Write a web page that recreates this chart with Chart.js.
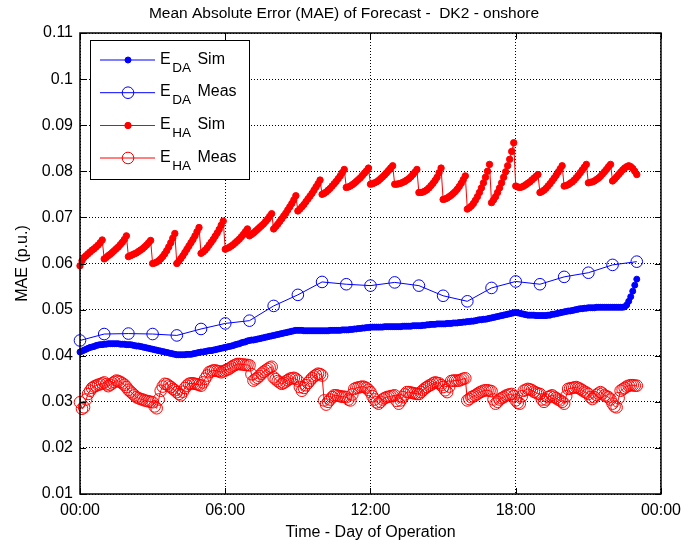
<!DOCTYPE html>
<html lang="en">
<head>
<meta charset="UTF-8">
<title>MAE of Forecast - DK2 onshore</title>
<script src="https://cdn.jsdelivr.net/npm/chart.js@4.4.1/dist/chart.umd.min.js"></script>
<style>
  html, body { margin: 0; padding: 0; background: #fff; }
</style>
</head>
<body>
<canvas id="maeChart" width="688" height="545"></canvas>
<script>
// dense series are sampled every 5 minutes (value in hours), meas DA is hourly
var stepDense = 1 / 12;
var stepHourly = 1;

var xTickLabels = ['00:00', '06:00', '12:00', '18:00', '00:00'];
var yTickLabels = ['0.01', '0.02', '0.03', '0.04', '0.05', '0.06', '0.07', '0.08', '0.09', '0.1', '0.11'];

var legendNames = [
    ['E', 'DA', 'Sim'],
    ['E', 'DA', 'Meas'],
    ['E', 'HA', 'Sim'],
    ['E', 'HA', 'Meas']
];

// one row per hour, 00:00 .. 23:00
var daSim = [
    0.0408, 0.0410, 0.0412, 0.0414, 0.0416, 0.0418, 0.0419, 0.0420, 0.0422, 0.0423, 0.0424, 0.0424,
    0.0425, 0.0425, 0.0426, 0.0426, 0.0426, 0.0426, 0.0426, 0.0426, 0.0425, 0.0425, 0.0425, 0.0424,
    0.0424, 0.0424, 0.0423, 0.0422, 0.0421, 0.0421, 0.0420, 0.0419, 0.0418, 0.0417, 0.0416, 0.0415,
    0.0414, 0.0413, 0.0412, 0.0411, 0.0410, 0.0409, 0.0408, 0.0407, 0.0406, 0.0405, 0.0404, 0.0403,
    0.0402, 0.0402, 0.0402, 0.0402, 0.0402, 0.0403, 0.0403, 0.0403, 0.0404, 0.0405, 0.0406, 0.0407,
    0.0408, 0.0408, 0.0409, 0.0410, 0.0411, 0.0411, 0.0412, 0.0413, 0.0414, 0.0415, 0.0416, 0.0417,
    0.0418, 0.0419, 0.0420, 0.0421, 0.0422, 0.0424, 0.0425, 0.0426, 0.0428, 0.0429, 0.0430, 0.0432,
    0.0433, 0.0434, 0.0434, 0.0435, 0.0436, 0.0437, 0.0438, 0.0439, 0.0440, 0.0441, 0.0442, 0.0443,
    0.0444, 0.0445, 0.0446, 0.0447, 0.0448, 0.0449, 0.0450, 0.0451, 0.0452, 0.0453, 0.0454, 0.0455,
    0.0455, 0.0455, 0.0455, 0.0454, 0.0454, 0.0454, 0.0454, 0.0454, 0.0454, 0.0454, 0.0454, 0.0454,
    0.0454, 0.0454, 0.0454, 0.0454, 0.0455, 0.0455, 0.0455, 0.0455, 0.0455, 0.0455, 0.0456, 0.0456,
    0.0456, 0.0456, 0.0457, 0.0457, 0.0458, 0.0458, 0.0459, 0.0459, 0.0460, 0.0460, 0.0461, 0.0461,
    0.0462, 0.0462, 0.0462, 0.0462, 0.0462, 0.0462, 0.0462, 0.0463, 0.0463, 0.0463, 0.0463, 0.0463,
    0.0463, 0.0463, 0.0463, 0.0463, 0.0464, 0.0464, 0.0464, 0.0464, 0.0464, 0.0465, 0.0465, 0.0465,
    0.0465, 0.0465, 0.0466, 0.0466, 0.0467, 0.0467, 0.0468, 0.0468, 0.0468, 0.0469, 0.0469, 0.0469,
    0.0469, 0.0469, 0.0470, 0.0470, 0.0470, 0.0471, 0.0471, 0.0471, 0.0472, 0.0472, 0.0473, 0.0473,
    0.0474, 0.0474, 0.0475, 0.0475, 0.0476, 0.0477, 0.0478, 0.0478, 0.0479, 0.0479, 0.0480, 0.0481,
    0.0482, 0.0483, 0.0484, 0.0485, 0.0486, 0.0487, 0.0488, 0.0489, 0.0490, 0.0491, 0.0492, 0.0493,
    0.0494, 0.0493, 0.0492, 0.0491, 0.0490, 0.0489, 0.0488, 0.0488, 0.0488, 0.0488, 0.0487, 0.0487,
    0.0487, 0.0487, 0.0487, 0.0487, 0.0488, 0.0488, 0.0490, 0.0490, 0.0491, 0.0492, 0.0493, 0.0494,
    0.0495, 0.0496, 0.0497, 0.0497, 0.0498, 0.0499, 0.0500, 0.0501, 0.0502, 0.0502, 0.0503, 0.0503,
    0.0504, 0.0504, 0.0504, 0.0504, 0.0505, 0.0505, 0.0505, 0.0505, 0.0505, 0.0505, 0.0505, 0.0505,
    0.0505, 0.0505, 0.0505, 0.0505, 0.0505, 0.0505, 0.0506, 0.0510, 0.0518, 0.0528, 0.0540, 0.0553,
    0.0566
];

var daMeas = [
    0.0433, 0.0447, 0.0448, 0.0447, 0.0444, 0.0458, 0.0470, 0.0476,
    0.0508, 0.0532, 0.0560, 0.0555, 0.0552, 0.0559, 0.0552, 0.0530,
    0.0518, 0.0547, 0.0561, 0.0555, 0.0571, 0.0580, 0.0597, 0.0604
];

var haSim = [
    0.0595, 0.0606, 0.0613, 0.0617, 0.0621, 0.0625, 0.0629, 0.0632, 0.0636, 0.0640, 0.0645, 0.0651,
    0.0610, 0.0613, 0.0617, 0.0620, 0.0624, 0.0628, 0.0632, 0.0636, 0.0641, 0.0646, 0.0652, 0.0660,
    0.0615, 0.0617, 0.0619, 0.0621, 0.0623, 0.0626, 0.0629, 0.0632, 0.0636, 0.0640, 0.0645, 0.0650,
    0.0600, 0.0601, 0.0603, 0.0606, 0.0610, 0.0615, 0.0621, 0.0628, 0.0636, 0.0645, 0.0655, 0.0665,
    0.0600, 0.0605, 0.0611, 0.0617, 0.0624, 0.0631, 0.0638, 0.0645, 0.0652, 0.0660, 0.0669, 0.0678,
    0.0622, 0.0625, 0.0629, 0.0634, 0.0640, 0.0646, 0.0652, 0.0659, 0.0666, 0.0674, 0.0683, 0.0692,
    0.0631, 0.0633, 0.0635, 0.0638, 0.0641, 0.0645, 0.0649, 0.0653, 0.0658, 0.0663, 0.0669, 0.0675,
    0.0660, 0.0663, 0.0666, 0.0670, 0.0674, 0.0678, 0.0682, 0.0686, 0.0691, 0.0696, 0.0702, 0.0708,
    0.0675, 0.0680, 0.0685, 0.0691, 0.0697, 0.0703, 0.0709, 0.0716, 0.0723, 0.0730, 0.0738, 0.0747,
    0.0714, 0.0718, 0.0723, 0.0728, 0.0734, 0.0740, 0.0746, 0.0752, 0.0759, 0.0766, 0.0773, 0.0781,
    0.0750, 0.0752, 0.0755, 0.0759, 0.0763, 0.0768, 0.0773, 0.0778, 0.0784, 0.0790, 0.0797, 0.0804,
    0.0765, 0.0766, 0.0768, 0.0771, 0.0774, 0.0778, 0.0782, 0.0786, 0.0791, 0.0796, 0.0801, 0.0807,
    0.0772, 0.0773, 0.0775, 0.0777, 0.0780, 0.0784, 0.0788, 0.0792, 0.0797, 0.0802, 0.0807, 0.0812,
    0.0772, 0.0772, 0.0773, 0.0774, 0.0776, 0.0778, 0.0781, 0.0784, 0.0788, 0.0793, 0.0798, 0.0804,
    0.0754, 0.0754, 0.0755, 0.0757, 0.0760, 0.0764, 0.0769, 0.0774, 0.0780, 0.0787, 0.0797, 0.0807,
    0.0739, 0.0740, 0.0742, 0.0745, 0.0748, 0.0752, 0.0756, 0.0761, 0.0767, 0.0774, 0.0782, 0.0790,
    0.0718, 0.0721, 0.0725, 0.0730, 0.0737, 0.0745, 0.0754, 0.0764, 0.0775, 0.0787, 0.0800, 0.0815,
    0.0732, 0.0738, 0.0745, 0.0754, 0.0764, 0.0775, 0.0787, 0.0799, 0.0812, 0.0826, 0.0843, 0.0862,
    0.0768, 0.0766, 0.0765, 0.0766, 0.0768, 0.0771, 0.0774, 0.0777, 0.0781, 0.0785, 0.0789, 0.0793,
    0.0754, 0.0756, 0.0759, 0.0763, 0.0768, 0.0773, 0.0779, 0.0785, 0.0791, 0.0798, 0.0805, 0.0812,
    0.0768, 0.0769, 0.0771, 0.0774, 0.0777, 0.0781, 0.0786, 0.0791, 0.0797, 0.0803, 0.0809, 0.0815,
    0.0775, 0.0776, 0.0777, 0.0779, 0.0782, 0.0785, 0.0789, 0.0794, 0.0799, 0.0804, 0.0810, 0.0815,
    0.0779, 0.0783, 0.0788, 0.0793, 0.0798, 0.0803, 0.0807, 0.0810, 0.0812, 0.0810, 0.0806, 0.0800,
    0.0793
];

var haMeas = [
    0.0299, 0.0285, 0.0288, 0.0305, 0.0317, 0.0324, 0.0330, 0.0333, 0.0335, 0.0337, 0.0338, 0.0340,
    0.0342, 0.0338, 0.0334, 0.0337, 0.0340, 0.0343, 0.0346, 0.0345, 0.0343, 0.0340, 0.0337, 0.0332,
    0.0326, 0.0322, 0.0318, 0.0314, 0.0310, 0.0308, 0.0306, 0.0305, 0.0303, 0.0302, 0.0301, 0.0300,
    0.0299, 0.0290, 0.0286, 0.0305, 0.0324, 0.0333, 0.0339, 0.0338, 0.0335, 0.0332, 0.0328, 0.0325,
    0.0321, 0.0317, 0.0314, 0.0322, 0.0330, 0.0335, 0.0339, 0.0340, 0.0340, 0.0339, 0.0338, 0.0337,
    0.0335, 0.0342, 0.0350, 0.0357, 0.0364, 0.0366, 0.0368, 0.0368, 0.0367, 0.0366, 0.0364, 0.0366,
    0.0368, 0.0370, 0.0372, 0.0375, 0.0378, 0.0380, 0.0382, 0.0382, 0.0381, 0.0381, 0.0380, 0.0380,
    0.0379, 0.0360, 0.0346, 0.0349, 0.0352, 0.0356, 0.0361, 0.0365, 0.0368, 0.0371, 0.0374, 0.0376,
    0.0353, 0.0349, 0.0345, 0.0342, 0.0339, 0.0341, 0.0344, 0.0347, 0.0350, 0.0351, 0.0352, 0.0350,
    0.0346, 0.0332, 0.0324, 0.0330, 0.0336, 0.0341, 0.0346, 0.0351, 0.0355, 0.0358, 0.0361, 0.0360,
    0.0357, 0.0303, 0.0294, 0.0300, 0.0305, 0.0310, 0.0314, 0.0314, 0.0313, 0.0312, 0.0311, 0.0311,
    0.0310, 0.0305, 0.0303, 0.0316, 0.0328, 0.0330, 0.0331, 0.0332, 0.0333, 0.0332, 0.0330, 0.0326,
    0.0321, 0.0312, 0.0305, 0.0299, 0.0296, 0.0300, 0.0305, 0.0308, 0.0310, 0.0311, 0.0312, 0.0313,
    0.0314, 0.0302, 0.0296, 0.0303, 0.0310, 0.0316, 0.0321, 0.0321, 0.0320, 0.0319, 0.0318, 0.0317,
    0.0317, 0.0321, 0.0325, 0.0329, 0.0332, 0.0335, 0.0337, 0.0340, 0.0342, 0.0341, 0.0340, 0.0336,
    0.0332, 0.0325, 0.0321, 0.0333, 0.0345, 0.0346, 0.0346, 0.0346, 0.0346, 0.0348, 0.0350, 0.0351,
    0.0303, 0.0306, 0.0310, 0.0312, 0.0314, 0.0317, 0.0320, 0.0322, 0.0324, 0.0325, 0.0325, 0.0324,
    0.0323, 0.0305, 0.0296, 0.0300, 0.0305, 0.0308, 0.0310, 0.0313, 0.0315, 0.0316, 0.0317, 0.0312,
    0.0303, 0.0298, 0.0296, 0.0312, 0.0324, 0.0326, 0.0328, 0.0327, 0.0325, 0.0322, 0.0320, 0.0318,
    0.0317, 0.0305, 0.0300, 0.0305, 0.0310, 0.0312, 0.0314, 0.0311, 0.0308, 0.0305, 0.0303, 0.0300,
    0.0296, 0.0312, 0.0328, 0.0329, 0.0330, 0.0331, 0.0332, 0.0330, 0.0328, 0.0325, 0.0322, 0.0320,
    0.0317, 0.0310, 0.0306, 0.0310, 0.0315, 0.0318, 0.0321, 0.0318, 0.0314, 0.0312, 0.0310, 0.0305,
    0.0296, 0.0290, 0.0288, 0.0308, 0.0324, 0.0327, 0.0330, 0.0333, 0.0335, 0.0336, 0.0336, 0.0335,
    0.0335
];

var BLUE = '#0000ff';
var RED = '#ff0000';
var FONT = '"Liberation Sans", Arial, Helvetica, sans-serif';

function toPoints(values, dt) {
    return values.map(function (v, i) { return { x: i * dt, y: v }; });
}

// marker style for each legend row (same as the datasets)
var legendStyles = [
    { color: BLUE, r: 3, filled: true },
    { color: BLUE, r: 5.8, filled: false },
    { color: RED, r: 3.2, filled: true },
    { color: RED, r: 5.8, filled: false }
];

function drawMarker(ctx, x, y, s) {
    ctx.beginPath();
    ctx.arc(x, y, s.r, 0, Math.PI * 2);
    if (s.filled) {
        ctx.fillStyle = s.color;
        ctx.fill();
    }
    ctx.strokeStyle = s.color;
    ctx.lineWidth = 1;
    ctx.stroke();
}

// box round the axes, inward tick marks and the matlab-like legend
var matlabFrame = {
    id: 'matlabFrame',
    afterDatasetsDraw: function (chart) {
        var ctx = chart.ctx;
        var a = chart.chartArea;
        var xs = chart.scales.x, ys = chart.scales.y;
        ctx.save();
        ctx.strokeStyle = '#000';
        ctx.lineWidth = 1.5;
        ctx.strokeRect(a.left, a.top, a.right - a.left, a.bottom - a.top);

        ctx.lineWidth = 1;
        var tl = 6;
        ctx.beginPath();
        xs.ticks.forEach(function (t) {
            var px = Math.round(xs.getPixelForValue(t.value)) + 0.5;
            ctx.moveTo(px, a.bottom); ctx.lineTo(px, a.bottom - tl);
            ctx.moveTo(px, a.top); ctx.lineTo(px, a.top + tl);
        });
        ys.ticks.forEach(function (t) {
            var py = Math.round(ys.getPixelForValue(t.value)) + 0.5;
            ctx.moveTo(a.left, py); ctx.lineTo(a.left + tl, py);
            ctx.moveTo(a.right, py); ctx.lineTo(a.right - tl, py);
        });
        ctx.stroke();

        // legend
        var bx = 90.5, by = 40.5, bw = 159, bh = 139;
        ctx.fillStyle = '#fff';
        ctx.fillRect(bx, by, bw, bh);
        ctx.lineWidth = 1;
        ctx.strokeStyle = '#000';
        ctx.strokeRect(bx, by, bw, bh);

        var rowY = [60, 92.7, 125.5, 158];
        legendNames.forEach(function (parts, i) {
            var y = rowY[i];
            var s = legendStyles[i];
            ctx.strokeStyle = s.color;
            ctx.lineWidth = 1;
            ctx.beginPath();
            ctx.moveTo(100, y);
            ctx.lineTo(155, y);
            ctx.stroke();
            drawMarker(ctx, 128, y, s);

            ctx.fillStyle = '#000';
            ctx.textAlign = 'left';
            ctx.textBaseline = 'alphabetic';
            ctx.font = '16px ' + FONT;
            var x = 160;
            ctx.fillText(parts[0], x, y + 3.5);
            x += ctx.measureText(parts[0]).width + 1.5;
            ctx.font = '13.5px ' + FONT;
            ctx.fillText(parts[1], x, y + 11.5);
            x += ctx.measureText(parts[1]).width + 6.5;
            ctx.font = '16px ' + FONT;
            ctx.fillText(parts[2], x, y + 3.5);
        });
        ctx.restore();
    }
};

var ctx = document.getElementById('maeChart').getContext('2d');
var maeChart = new Chart(ctx, {
    type: 'line',
    data: {
        datasets: [
            {
                label: 'E_DA Sim',
                data: toPoints(daSim, stepDense),
                borderColor: BLUE,
                borderWidth: 1,
                pointRadius: 3,
                pointBackgroundColor: BLUE,
                pointBorderColor: BLUE,
                pointBorderWidth: 1,
                clip: false,
                order: 4
            },
            {
                label: 'E_DA Meas',
                data: toPoints(daMeas, stepHourly),
                borderColor: BLUE,
                borderWidth: 1,
                pointRadius: 5.8,
                pointBackgroundColor: 'rgba(0,0,0,0)',
                pointBorderColor: BLUE,
                pointBorderWidth: 1,
                clip: false,
                order: 3
            },
            {
                label: 'E_HA Sim',
                data: toPoints(haSim, stepDense),
                borderColor: RED,
                borderWidth: 1,
                pointRadius: 3.2,
                pointBackgroundColor: RED,
                pointBorderColor: RED,
                pointBorderWidth: 1,
                clip: false,
                order: 2
            },
            {
                label: 'E_HA Meas',
                data: toPoints(haMeas, stepDense),
                borderColor: RED,
                borderWidth: 1,
                pointRadius: 5.8,
                pointBackgroundColor: 'rgba(0,0,0,0)',
                pointBorderColor: RED,
                pointBorderWidth: 1,
                clip: false,
                order: 1
            }
        ]
    },
    options: {
        responsive: false,
        animation: false,
        events: [],
        layout: { padding: 0 },
        plugins: {
            legend: { display: false },
            tooltip: { enabled: false },
            title: {
                display: true,
                text: 'Mean Absolute Error (MAE) of Forecast -  DK2 - onshore',
                color: '#000',
                font: { family: FONT, size: 15.5, weight: 'normal' },
                padding: { top: 4, bottom: 10.4 }
            }
        },
        scales: {
            x: {
                type: 'linear',
                min: 0,
                max: 24,
                afterFit: function (scale) { scale.height = 51; },
                ticks: {
                    stepSize: 6,
                    padding: 7,
                    color: '#000',
                    maxRotation: 0,
                    font: { family: FONT, size: 16 },
                    callback: function (value, index) { return xTickLabels[index]; }
                },
                grid: { color: '#000', lineWidth: 1, drawTicks: false },
                border: { display: false, dash: [1, 2] },
                title: {
                    display: true,
                    text: 'Time - Day of Operation',
                    color: '#000',
                    font: { family: FONT, size: 16 },
                    padding: { top: 0, bottom: 3 }
                }
            },
            y: {
                type: 'linear',
                min: 0.01,
                max: 0.11,
                afterFit: function (scale) { scale.width = 80; },
                ticks: {
                    stepSize: 0.01,
                    padding: 7,
                    color: '#000',
                    font: { family: FONT, size: 16 },
                    callback: function (value, index) { return yTickLabels[index]; }
                },
                grid: { color: '#000', lineWidth: 1, drawTicks: false },
                border: { display: false, dash: [1, 2] },
                title: {
                    display: true,
                    text: 'MAE (p.u.)',
                    color: '#000',
                    font: { family: FONT, size: 16 },
                    padding: { top: 13, bottom: 0 }
                }
            },
            // empty right margin so the title is centred on the whole figure
            yRight: {
                type: 'linear',
                position: 'right',
                min: 0.01,
                max: 0.11,
                afterFit: function (scale) { scale.width = 23; },
                ticks: { display: false },
                grid: { display: false, drawTicks: false },
                border: { display: false }
            }
        }
    },
    plugins: [matlabFrame]
});
</script>
</body>
</html>
